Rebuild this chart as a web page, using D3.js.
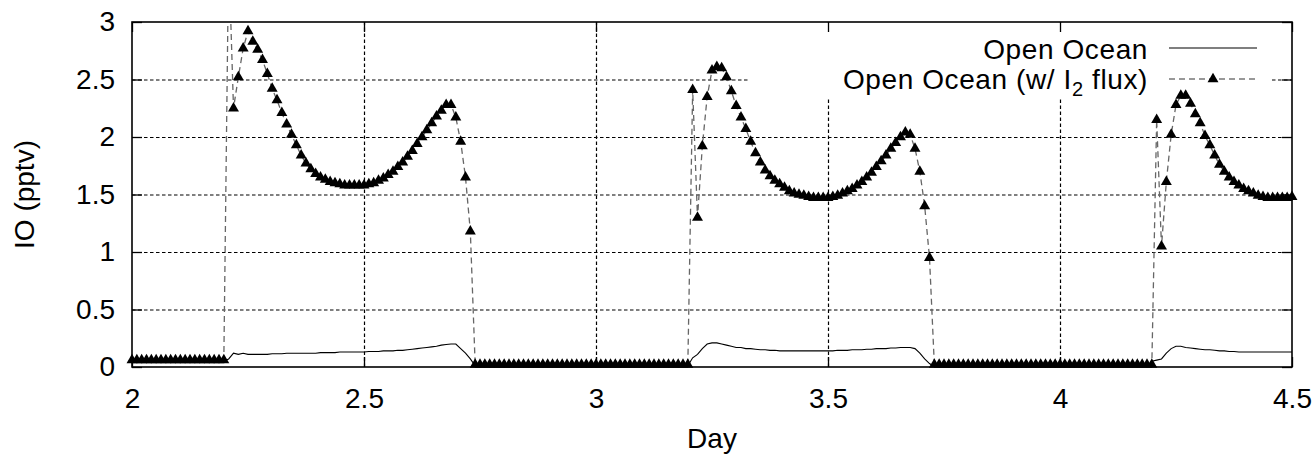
<!DOCTYPE html>
<html>
<head>
<meta charset="utf-8">
<script src="https://cdn.jsdelivr.net/npm/d3@7"></script>
<style>
  body { margin: 0; background: #fff; }
  text { font-family: "Liberation Sans", Arial, Helvetica, sans-serif; fill: #000; }
</style>
</head>
<body>
<svg id="chart"></svg>
<script>
const w = 1314;
const h = 460;
const margin = {top: 22, right: 22, bottom: 93, left: 132};

// model output every 15 minutes, starting at day 2
const startDay = 2;
const stepDay = 1 / 96;

const openOcean = [
  0.05, 0.05, 0.05, 0.05, 0.05, 0.05, 0.05, 0.05, 0.05, 0.05,
  0.05, 0.05, 0.05, 0.05, 0.05, 0.05, 0.05, 0.05, 0.05, 0.05,
  0.07, 0.12, 0.11, 0.12, 0.11, 0.11, 0.11, 0.11, 0.11, 0.115,
  0.115, 0.115, 0.12, 0.12, 0.12, 0.12, 0.12, 0.12, 0.12, 0.125,
  0.125, 0.125, 0.125, 0.13, 0.13, 0.13, 0.13, 0.13, 0.13, 0.135,
  0.135, 0.135, 0.14, 0.14, 0.14, 0.145, 0.145, 0.15, 0.155, 0.16,
  0.165, 0.17, 0.175, 0.18, 0.19, 0.195, 0.2, 0.2, 0.16, 0.12,
  0.07, 0.01, 0, 0, 0, 0, 0, 0, 0, 0,
  0, 0, 0, 0, 0, 0, 0, 0, 0, 0,
  0, 0, 0, 0, 0, 0, 0, 0, 0, 0,
  0, 0, 0, 0, 0, 0, 0, 0, 0, 0,
  0, 0, 0, 0, 0, 0.01, 0.08, 0.11, 0.16, 0.2,
  0.21, 0.21, 0.2, 0.19, 0.18, 0.17, 0.17, 0.16, 0.16, 0.155,
  0.15, 0.15, 0.145, 0.145, 0.14, 0.14, 0.14, 0.14, 0.14, 0.14,
  0.14, 0.14, 0.14, 0.14, 0.14, 0.14, 0.145, 0.145, 0.145, 0.15,
  0.15, 0.15, 0.155, 0.155, 0.16, 0.16, 0.16, 0.165, 0.165, 0.17,
  0.17, 0.17, 0.16, 0.12, 0.07, 0.03, 0, 0, 0, 0,
  0, 0, 0, 0, 0, 0, 0, 0, 0, 0,
  0, 0, 0, 0, 0, 0, 0, 0, 0, 0,
  0, 0, 0, 0, 0, 0, 0, 0, 0, 0,
  0, 0, 0, 0, 0, 0, 0, 0, 0, 0,
  0, 0.05, 0.06, 0.07, 0.12, 0.16, 0.18, 0.18, 0.17, 0.165,
  0.16, 0.155, 0.15, 0.15, 0.145, 0.14, 0.14, 0.135, 0.135, 0.13,
  0.13, 0.13, 0.13, 0.13, 0.13, 0.13, 0.13, 0.13, 0.13, 0.13,
  0.13
];

const openOceanI2 = [
  0.06, 0.06, 0.06, 0.06, 0.06, 0.06, 0.06, 0.06, 0.06, 0.06,
  0.06, 0.06, 0.06, 0.06, 0.06, 0.06, 0.06, 0.06, 0.06, 0.06,
  3.6, 2.25, 2.52, 2.77, 2.92, 2.83, 2.76, 2.67, 2.55, 2.42,
  2.32, 2.21, 2.11, 2.02, 1.93, 1.84, 1.77, 1.72, 1.68, 1.65,
  1.63, 1.61, 1.60, 1.59, 1.58, 1.58, 1.58, 1.58, 1.58, 1.59,
  1.60, 1.62, 1.64, 1.67, 1.70, 1.74, 1.78, 1.83, 1.88, 1.94,
  2.00, 2.06, 2.12, 2.18, 2.23, 2.28, 2.28, 2.17, 1.96, 1.65,
  1.18, 0.02, 0.02, 0.02, 0.02, 0.02, 0.02, 0.02, 0.02, 0.02,
  0.02, 0.02, 0.02, 0.02, 0.02, 0.02, 0.02, 0.02, 0.02, 0.02,
  0.02, 0.02, 0.02, 0.02, 0.02, 0.02, 0.02, 0.02, 0.02, 0.02,
  0.02, 0.02, 0.02, 0.02, 0.02, 0.02, 0.02, 0.02, 0.02, 0.02,
  0.02, 0.02, 0.02, 0.02, 0.02, 0.02, 2.41, 1.30, 1.92, 2.35,
  2.58, 2.61, 2.60, 2.52, 2.40, 2.27, 2.17, 2.07, 1.96, 1.86,
  1.78, 1.71, 1.66, 1.62, 1.59, 1.56, 1.53, 1.51, 1.50, 1.49,
  1.48, 1.47, 1.47, 1.47, 1.47, 1.48, 1.49, 1.51, 1.53, 1.55,
  1.58, 1.61, 1.65, 1.69, 1.74, 1.79, 1.84, 1.90, 1.95, 2.00,
  2.04, 2.02, 1.90, 1.70, 1.40, 0.95, 0.02, 0.02, 0.02, 0.02,
  0.02, 0.02, 0.02, 0.02, 0.02, 0.02, 0.02, 0.02, 0.02, 0.02,
  0.02, 0.02, 0.02, 0.02, 0.02, 0.02, 0.02, 0.02, 0.02, 0.02,
  0.02, 0.02, 0.02, 0.02, 0.02, 0.02, 0.02, 0.02, 0.02, 0.02,
  0.02, 0.02, 0.02, 0.02, 0.02, 0.02, 0.02, 0.02, 0.02, 0.02,
  0.02, 0.02, 2.15, 1.05, 1.61, 2.02, 2.28, 2.36, 2.36, 2.29,
  2.20, 2.12, 2.01, 1.93, 1.84, 1.76, 1.70, 1.65, 1.61, 1.58,
  1.55, 1.53, 1.51, 1.49, 1.48, 1.47, 1.47, 1.47, 1.47, 1.47,
  1.48
];

const xTicks = [2, 2.5, 3, 3.5, 4, 4.5];
const yTicks = [0, 0.5, 1, 1.5, 2, 2.5, 3];
const seriesNames = ["Open Ocean", "Open Ocean (w/ I", "2", " flux)"];

const days = openOcean.map((_, i) => startDay + i * stepDay);
const rows = days.map((d, i) => ({day: d, base: openOcean[i], flux: openOceanI2[i]}));

const innerW = w - margin.left - margin.right;
const innerH = h - margin.top - margin.bottom;

const svg = d3.select("#chart")
  .attr("width", w)
  .attr("height", h);

const x = d3.scaleLinear().domain([2, 4.5]).range([margin.left, w - margin.right]);
const y = d3.scaleLinear().domain([0, 3]).range([h - margin.bottom, margin.top]);

// grid
const gridStyle = g => g.selectAll("line")
  .attr("stroke", "#000")
  .attr("stroke-width", 1.2)
  .attr("stroke-dasharray", "3.5,2.5");

svg.append("g")
  .attr("transform", `translate(0,${h - margin.bottom})`)
  .call(d3.axisBottom(x).tickValues(xTicks.slice(1, -1)).tickSize(-innerH).tickFormat(""))
  .call(g => g.select(".domain").remove())
  .call(gridStyle);

svg.append("g")
  .attr("transform", `translate(${margin.left},0)`)
  .call(d3.axisLeft(y).tickValues(yTicks.slice(1, -1)).tickSize(-innerW).tickFormat(""))
  .call(g => g.select(".domain").remove())
  .call(gridStyle);

// key area hides the grid
svg.append("rect")
  .attr("x", 748).attr("y", margin.top + 1)
  .attr("width", 524).attr("height", 75)
  .attr("fill", "#fff");

svg.append("defs").append("clipPath").attr("id", "plot")
  .append("rect")
  .attr("x", margin.left).attr("y", margin.top)
  .attr("width", innerW).attr("height", innerH);

const fluxLine = d3.line().x(d => x(d.day)).y(d => y(d.flux));
const baseLine = d3.line().x(d => x(d.day)).y(d => y(d.base));

svg.append("path")
  .datum(rows)
  .attr("clip-path", "url(#plot)")
  .attr("fill", "none")
  .attr("stroke", "#666")
  .attr("stroke-width", 1.3)
  .attr("stroke-dasharray", "6,4")
  .attr("d", fluxLine);

svg.append("path")
  .datum(rows)
  .attr("clip-path", "url(#plot)")
  .attr("fill", "none")
  .attr("stroke", "#000")
  .attr("stroke-width", 1.1)
  .attr("d", baseLine);

const tri = d3.symbol(d3.symbolTriangle, 52);

svg.append("g")
  .selectAll("path")
  .data(rows.filter(d => d.flux <= 3))
  .join("path")
  .attr("transform", d => `translate(${x(d.day)},${y(d.flux)})`)
  .attr("d", tri)
  .attr("fill", "#000");

// axes, ticks inward on all four sides
const tickLen = 10;
const labelStyle = g => g.selectAll("text")
  .attr("font-size", 28)
  .attr("font-family", "'Liberation Sans', Arial, sans-serif")
  .attr("fill", "#000");

svg.append("g")
  .attr("transform", `translate(0,${h - margin.bottom})`)
  .call(d3.axisBottom(x).tickValues(xTicks).tickSize(-tickLen).tickPadding(21).tickFormat(d3.format("~g")))
  .call(g => g.select(".domain").remove())
  .call(g => g.selectAll("line").attr("stroke", "#000").attr("stroke-width", 1.3))
  .call(labelStyle);

svg.append("g")
  .attr("transform", `translate(${margin.left},0)`)
  .call(d3.axisLeft(y).tickValues(yTicks).tickSize(-tickLen).tickPadding(17).tickFormat(d3.format("~g")))
  .call(g => g.select(".domain").remove())
  .call(g => g.selectAll("line").attr("stroke", "#000").attr("stroke-width", 1.3))
  .call(labelStyle);

svg.append("g")
  .attr("transform", `translate(0,${margin.top})`)
  .call(d3.axisTop(x).tickValues(xTicks).tickSize(-tickLen).tickFormat(""))
  .call(g => g.select(".domain").remove())
  .call(g => g.selectAll("line").attr("stroke", "#000").attr("stroke-width", 1.3));

svg.append("g")
  .attr("transform", `translate(${w - margin.right},0)`)
  .call(d3.axisRight(y).tickValues(yTicks).tickSize(-tickLen).tickFormat(""))
  .call(g => g.select(".domain").remove())
  .call(g => g.selectAll("line").attr("stroke", "#000").attr("stroke-width", 1.3));

svg.append("rect")
  .attr("x", margin.left).attr("y", margin.top)
  .attr("width", innerW).attr("height", innerH)
  .attr("fill", "none")
  .attr("stroke", "#000")
  .attr("stroke-width", 1.6);

// axis titles
svg.append("text")
  .attr("x", margin.left + innerW / 2)
  .attr("y", 448)
  .attr("text-anchor", "middle")
  .attr("font-size", 28)
  .text("Day");

svg.append("text")
  .attr("transform", `translate(34,${margin.top + innerH / 2}) rotate(-90)`)
  .attr("text-anchor", "middle")
  .attr("font-size", 28)
  .text("IO (pptv)");

// key
const keyTextX = 1148;
const keyLineX = [1169, 1257];

svg.append("text")
  .attr("x", keyTextX).attr("y", 58.5)
  .attr("text-anchor", "end")
  .attr("font-size", 28)
  .attr("letter-spacing", 0.6)
  .text(seriesNames[0]);

svg.append("line")
  .attr("x1", keyLineX[0]).attr("x2", keyLineX[1])
  .attr("y1", 48).attr("y2", 48)
  .attr("stroke", "#000").attr("stroke-width", 1.1);

const k2 = svg.append("text")
  .attr("x", keyTextX).attr("y", 89)
  .attr("text-anchor", "end")
  .attr("font-size", 28)
  .attr("letter-spacing", 0.6);
k2.append("tspan").text(seriesNames[1]);
k2.append("tspan").attr("font-size", 20).attr("dy", 7).text(seriesNames[2]);
k2.append("tspan").attr("dy", -7).text(seriesNames[3]);

svg.append("line")
  .attr("x1", keyLineX[0]).attr("x2", keyLineX[1])
  .attr("y1", 79).attr("y2", 79)
  .attr("stroke", "#777").attr("stroke-width", 1.3)
  .attr("stroke-dasharray", "6,4");

svg.append("path")
  .attr("transform", `translate(${(keyLineX[0] + keyLineX[1]) / 2},79)`)
  .attr("d", tri)
  .attr("fill", "#000");
</script>
</body>
</html>
